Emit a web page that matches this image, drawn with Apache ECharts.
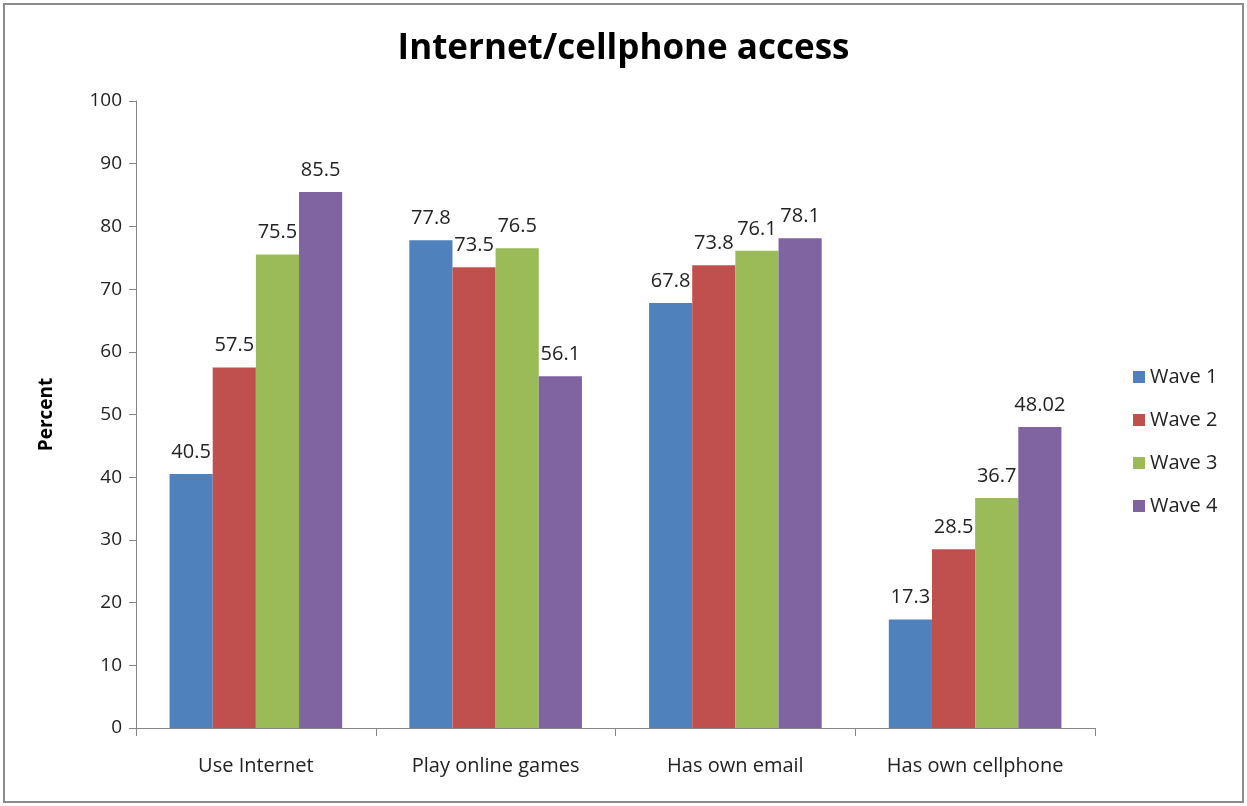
<!DOCTYPE html>
<html>
<head>
<meta charset="utf-8">
<script src="https://cdn.jsdelivr.net/npm/echarts@6/dist/echarts.min.js"></script>
<style>
html, body { margin: 0; padding: 0; background: #fff; }
#chart { position: absolute; left: 3px; top: 3px; width: 1237px; height: 796px; border: 2px solid #8c8c8c; box-sizing: content-box; }
</style>
</head>
<body>
<div id="chart"></div>
<script>
var categories = ['Use Internet', 'Play online games', 'Has own email', 'Has own cellphone'];
var wave1 = [40.5, 77.8, 67.8, 17.3];
var wave2 = [57.5, 73.5, 73.8, 28.5];
var wave3 = [75.5, 76.5, 76.1, 36.7];
var wave4 = [85.5, 56.1, 78.1, 48.02];
var seriesNames = ['Wave 1', 'Wave 2', 'Wave 3', 'Wave 4'];
var colors = ['#4F81BD', '#C0504D', '#9BBB59', '#8064A2'];

var myChart = echarts.init(document.getElementById('chart'));
var font = '"Open Sans", "Noto Sans", sans-serif';

function makeSeries(name, data, i) {
    return {
        name: name,
        type: 'bar',
        data: data,
        barGap: '0%',
        barCategoryGap: '28%',
        itemStyle: { color: colors[i] },
        label: {
            show: true,
            position: 'top',
            distance: 12,
            color: '#222',
            fontFamily: font,
            fontSize: 20
        }
    };
}

var option = {
    animation: false,
    textStyle: { fontFamily: font },
    title: {
        text: 'Internet/cellphone access',
        left: 'center',
        top: 22,
        textStyle: { fontFamily: font, fontSize: 35, fontWeight: 'bold', color: '#000' }
    },
    legend: {
        orient: 'vertical',
        left: 1123,
        top: 357,
        itemWidth: 12,
        itemHeight: 12,
        itemGap: 23,
        icon: 'rect',
        textStyle: { fontFamily: font, fontSize: 20, color: '#222' },
        data: seriesNames
    },
    grid: {
        left: 131,
        right: 147,
        top: 96,
        bottom: 73
    },
    xAxis: {
        type: 'category',
        data: categories,
        axisLine: { lineStyle: { color: '#868686', width: 1 } },
        axisTick: { show: true, length: 8, alignWithLabel: false, lineStyle: { color: '#868686' } },
        axisLabel: { color: '#222', fontFamily: font, fontSize: 20, margin: 28 }
    },
    yAxis: {
        type: 'value',
        min: 0,
        max: 100,
        interval: 10,
        name: 'Percent',
        nameLocation: 'middle',
        nameGap: 80,
        nameRotate: 90,
        nameTextStyle: { fontFamily: font, fontSize: 19, fontWeight: 'bold', color: '#000' },
        axisLine: { show: true, lineStyle: { color: '#868686', width: 1 } },
        axisTick: { show: true, length: 7, lineStyle: { color: '#868686' } },
        axisLabel: { color: '#222', fontFamily: font, fontSize: 19, margin: 14 },
        splitLine: { show: false }
    },
    series: [
        makeSeries(seriesNames[0], wave1, 0),
        makeSeries(seriesNames[1], wave2, 1),
        makeSeries(seriesNames[2], wave3, 2),
        makeSeries(seriesNames[3], wave4, 3)
    ]
};
myChart.setOption(option);
</script>
</body>
</html>
